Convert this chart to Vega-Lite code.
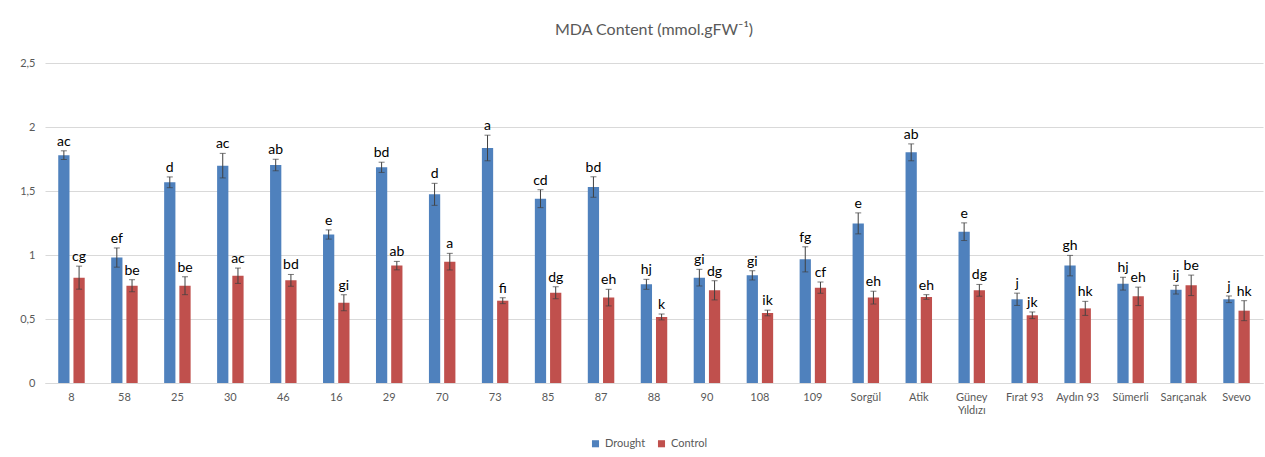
{
  "$schema": "https://vega.github.io/schema/vega-lite/v6.json",
  "width": 1218,
  "height": 320,
  "autosize": "none",
  "padding": {"left": 45, "top": 63, "right": 2, "bottom": 74},
  "background": "white",
  "config": {
    "font": "Lato",
    "view": {"stroke": null},
    "axis": {"labelFont": "Lato", "labelColor": "#595959", "labelFontSize": 11}
  },
  "title": {
    "text": "MDA Content (mmol.gFW⁻¹)",
    "fontSize": 16,
    "fontWeight": "normal",
    "color": "#595959",
    "font": "Lato",
    "anchor": "middle",
    "offset": 19
  },
  "data": {
    "values": [
      {"genotype": "8", "treatment": "Drought", "value": 1.78, "err": 0.034, "letter": "ac"},
      {"genotype": "8", "treatment": "Control", "value": 0.823, "err": 0.09, "letter": "cg"},
      {"genotype": "58", "treatment": "Drought", "value": 0.98, "err": 0.075, "letter": "ef"},
      {"genotype": "58", "treatment": "Control", "value": 0.76, "err": 0.047, "letter": "be"},
      {"genotype": "25", "treatment": "Drought", "value": 1.568, "err": 0.042, "letter": "d"},
      {"genotype": "25", "treatment": "Control", "value": 0.76, "err": 0.07, "letter": "be"},
      {"genotype": "30", "treatment": "Drought", "value": 1.698, "err": 0.096, "letter": "ac"},
      {"genotype": "30", "treatment": "Control", "value": 0.838, "err": 0.06, "letter": "ac"},
      {"genotype": "46", "treatment": "Drought", "value": 1.703, "err": 0.045, "letter": "ab"},
      {"genotype": "46", "treatment": "Control", "value": 0.802, "err": 0.046, "letter": "bd"},
      {"genotype": "16", "treatment": "Drought", "value": 1.16, "err": 0.036, "letter": "e"},
      {"genotype": "16", "treatment": "Control", "value": 0.627, "err": 0.0625, "letter": "gi"},
      {"genotype": "29", "treatment": "Drought", "value": 1.685, "err": 0.04, "letter": "bd"},
      {"genotype": "29", "treatment": "Control", "value": 0.917, "err": 0.033, "letter": "ab"},
      {"genotype": "70", "treatment": "Drought", "value": 1.474, "err": 0.086, "letter": "d"},
      {"genotype": "70", "treatment": "Control", "value": 0.948, "err": 0.065, "letter": "a"},
      {"genotype": "73", "treatment": "Drought", "value": 1.836, "err": 0.1, "letter": "a"},
      {"genotype": "73", "treatment": "Control", "value": 0.643, "err": 0.023, "letter": "fi"},
      {"genotype": "85", "treatment": "Drought", "value": 1.44, "err": 0.07, "letter": "cd"},
      {"genotype": "85", "treatment": "Control", "value": 0.705, "err": 0.046, "letter": "dg"},
      {"genotype": "87", "treatment": "Drought", "value": 1.531, "err": 0.08, "letter": "bd"},
      {"genotype": "87", "treatment": "Control", "value": 0.667, "err": 0.065, "letter": "eh"},
      {"genotype": "88", "treatment": "Drought", "value": 0.771, "err": 0.039, "letter": "hj"},
      {"genotype": "88", "treatment": "Control", "value": 0.516, "err": 0.023, "letter": "k"},
      {"genotype": "90", "treatment": "Drought", "value": 0.823, "err": 0.065, "letter": "gi"},
      {"genotype": "90", "treatment": "Control", "value": 0.724, "err": 0.075, "letter": "dg"},
      {"genotype": "108", "treatment": "Drought", "value": 0.841, "err": 0.036, "letter": "gi"},
      {"genotype": "108", "treatment": "Control", "value": 0.547, "err": 0.022, "letter": "ik"},
      {"genotype": "109", "treatment": "Drought", "value": 0.966, "err": 0.098, "letter": "fg"},
      {"genotype": "109", "treatment": "Control", "value": 0.745, "err": 0.044, "letter": "cf"},
      {"genotype": "Sorgül", "treatment": "Drought", "value": 1.247, "err": 0.082, "letter": "e"},
      {"genotype": "Sorgül", "treatment": "Control", "value": 0.667, "err": 0.05, "letter": "eh"},
      {"genotype": "Atik", "treatment": "Drought", "value": 1.802, "err": 0.066, "letter": "ab"},
      {"genotype": "Atik", "treatment": "Control", "value": 0.672, "err": 0.018, "letter": "eh"},
      {"genotype": "Güney Yıldızı", "treatment": "Drought", "value": 1.182, "err": 0.069, "letter": "e"},
      {"genotype": "Güney Yıldızı", "treatment": "Control", "value": 0.724, "err": 0.046, "letter": "dg"},
      {"genotype": "Fırat 93", "treatment": "Drought", "value": 0.654, "err": 0.048, "letter": "j"},
      {"genotype": "Fırat 93", "treatment": "Control", "value": 0.529, "err": 0.026, "letter": "jk"},
      {"genotype": "Aydın 93", "treatment": "Drought", "value": 0.917, "err": 0.08, "letter": "gh"},
      {"genotype": "Aydın 93", "treatment": "Control", "value": 0.583, "err": 0.055, "letter": "hk"},
      {"genotype": "Sümerli", "treatment": "Drought", "value": 0.776, "err": 0.05, "letter": "hj"},
      {"genotype": "Sümerli", "treatment": "Control", "value": 0.677, "err": 0.072, "letter": "eh"},
      {"genotype": "Sarıçanak", "treatment": "Drought", "value": 0.729, "err": 0.034, "letter": "ij"},
      {"genotype": "Sarıçanak", "treatment": "Control", "value": 0.763, "err": 0.08, "letter": "be"},
      {"genotype": "Svevo", "treatment": "Drought", "value": 0.654, "err": 0.026, "letter": "j"},
      {"genotype": "Svevo", "treatment": "Control", "value": 0.565, "err": 0.078, "letter": "hk"}
    ]
  },
  "transform": [
    {"calculate": "datum.value - datum.err", "as": "lo"},
    {"calculate": "datum.value + datum.err", "as": "hi"}
  ],
  "encoding": {
    "x": {
      "field": "genotype",
      "type": "nominal",
      "sort": null,
      "scale": {"paddingInner": 0.5, "paddingOuter": 0.25},
      "axis": {
        "title": null,
        "labelAngle": 0,
        "ticks": false,
        "labelPadding": 8,
        "domainColor": "#d9d9d9",
        "labelExpr": "datum.value == 'Güney Yıldızı' ? ['Güney', 'Yıldızı'] : datum.value"
      }
    },
    "xOffset": {
      "field": "treatment",
      "type": "nominal",
      "sort": ["Drought", "Control"],
      "scale": {"paddingInner": 0.26}
    }
  },
  "layer": [
    {
      "mark": {"type": "bar"},
      "encoding": {
        "y": {
          "field": "value",
          "type": "quantitative",
          "scale": {"domain": [0, 2.5], "nice": false, "zero": true},
          "axis": {
            "title": null,
            "values": [0, 0.5, 1, 1.5, 2, 2.5],
            "format": "~g",
            "labelExpr": "replace(datum.label, '.', ',')",
            "domain": false,
            "ticks": false,
            "labelPadding": 10,
            "gridColor": "#d9d9d9"
          }
        },
        "color": {
          "field": "treatment",
          "type": "nominal",
          "sort": ["Drought", "Control"],
          "scale": {"domain": ["Drought", "Control"], "range": ["#4f81bd", "#c0504d"]},
          "legend": {
            "title": null,
            "orient": "none",
            "direction": "horizontal",
            "legendX": 545,
            "legendY": 375,
            "symbolType": "square",
            "symbolSize": 50,
            "symbolStrokeWidth": 0,
            "labelColor": "#595959",
            "labelFontSize": 11,
            "labelFont": "Lato",
            "columnPadding": 10
          }
        }
      }
    },
    {
      "mark": {"type": "rule", "color": "#404040", "strokeWidth": 1},
      "encoding": {
        "y": {"field": "lo", "type": "quantitative", "scale": {"domain": [0, 2.5], "nice": false}},
        "y2": {"field": "hi"}
      }
    },
    {
      "mark": {"type": "tick", "color": "#404040", "thickness": 1, "size": 6},
      "encoding": {"y": {"field": "lo", "type": "quantitative", "scale": {"domain": [0, 2.5], "nice": false}}}
    },
    {
      "mark": {"type": "tick", "color": "#404040", "thickness": 1, "size": 6},
      "encoding": {"y": {"field": "hi", "type": "quantitative", "scale": {"domain": [0, 2.5], "nice": false}}}
    },
    {
      "mark": {"type": "text", "baseline": "bottom", "dy": -2, "fontSize": 14, "color": "#000000", "font": "Lato"},
      "encoding": {
        "y": {"field": "hi", "type": "quantitative", "scale": {"domain": [0, 2.5], "nice": false}},
        "text": {"field": "letter"}
      }
    }
  ]
}
